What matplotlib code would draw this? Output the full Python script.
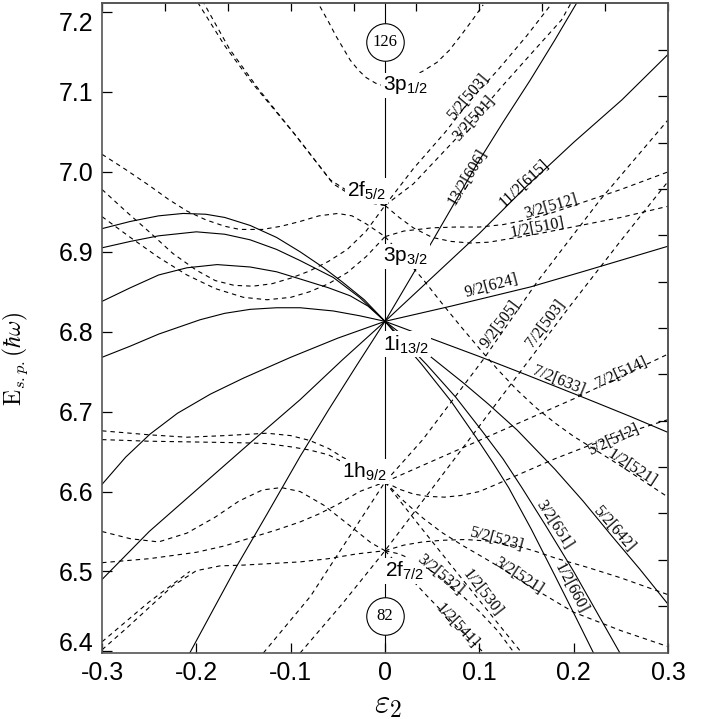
import numpy as np
import matplotlib
matplotlib.use("Agg")
import matplotlib.pyplot as plt

plt.rcParams["axes.unicode_minus"] = False

# ---------------------------------------------------------------------------
# Poziomy jednocząstkowe: (epsilon_2, E [hbar*omega])
# ---------------------------------------------------------------------------

# linie ciągłe – 1i13/2, strona prolate
lvl_606 = ([0, 0.05, 0.097, 0.125, 0.154, 0.18, 0.203],
           [6.813, 6.913, 7.009, 7.062, 7.115, 7.165, 7.211])
lvl_615 = ([0, 0.05, 0.1, 0.15, 0.2, 0.251, 0.3],
           [6.813, 6.868, 6.923, 6.982, 7.037, 7.09, 7.147])
lvl_624 = ([0, 0.07, 0.154, 0.212, 0.3], [6.813, 6.832, 6.856, 6.876, 6.907])
lvl_633 = ([0, 0.05, 0.1, 0.15, 0.214, 0.26, 0.3],
           [6.813, 6.791, 6.769, 6.746, 6.716, 6.694, 6.674])
lvl_642 = ([0, 0.047, 0.083, 0.11, 0.14, 0.18, 0.21, 0.24, 0.27, 0.3],
           [6.813, 6.77, 6.736, 6.709, 6.677, 6.628, 6.588, 6.545, 6.503, 6.459])
lvl_651 = ([0, 0.044, 0.075, 0.104, 0.125, 0.145, 0.17, 0.2, 0.225, 0.249],
           [6.813, 6.759, 6.718, 6.674, 6.641, 6.605, 6.558, 6.5, 6.448, 6.398])
lvl_660 = ([0, 0.039, 0.07, 0.097, 0.115, 0.131, 0.155, 0.18, 0.2, 0.221],
           [6.813, 6.759, 6.713, 6.667, 6.635, 6.605, 6.553, 6.495, 6.448, 6.398])

# linie ciągłe – 1i13/2, strona oblate
obl_a = ([-0.3, -0.27, -0.24, -0.214, -0.19, -0.17, -0.143, -0.115, -0.09, -0.065, -0.045, -0.022, 0],
         [6.929, 6.938, 6.945, 6.948, 6.947, 6.943, 6.933, 6.918, 6.9, 6.88, 6.862, 6.84, 6.813])
obl_b = ([-0.3, -0.27, -0.24, -0.2, -0.17, -0.143, -0.115, -0.09, -0.055, -0.027, 0],
         [6.905, 6.913, 6.92, 6.925, 6.922, 6.915, 6.903, 6.889, 6.868, 6.843, 6.813])
obl_c = ([-0.3, -0.27, -0.24, -0.21, -0.178, -0.143, -0.115, -0.09, -0.06, -0.037, -0.018, 0],
         [6.838, 6.855, 6.871, 6.88, 6.884, 6.881, 6.875, 6.866, 6.855, 6.845, 6.832, 6.813])
obl_d = ([-0.3, -0.27, -0.24, -0.196, -0.17, -0.143, -0.115, -0.09, -0.055, -0.027, 0],
         [6.768, 6.782, 6.797, 6.815, 6.823, 6.828, 6.83, 6.83, 6.826, 6.82, 6.813])
obl_e = ([-0.3, -0.275, -0.249, -0.22, -0.185, -0.15, -0.1, -0.05, 0],
         [6.609, 6.643, 6.672, 6.698, 6.722, 6.742, 6.768, 6.792, 6.813])
obl_f = ([-0.3, -0.25, -0.196, -0.14, -0.09, -0.045, 0],
         [6.49, 6.55, 6.606, 6.664, 6.715, 6.765, 6.813])
obl_g = ([-0.207, -0.18, -0.157, -0.125, -0.09, -0.06, -0.03, 0],
         [6.398, 6.457, 6.507, 6.572, 6.644, 6.702, 6.758, 6.813])

# linie przerywane – stany o parzystości ujemnej
p12_top = ([-0.069, -0.06, -0.052, -0.044, -0.037, -0.028, -0.02, -0.01, 0,
            0.012, 0.025, 0.04, 0.055, 0.068, 0.08, 0.092, 0.104],
           [7.207, 7.188, 7.17, 7.154, 7.14, 7.127, 7.118, 7.111, 7.107,
            7.11, 7.117, 7.126, 7.137, 7.152, 7.17, 7.189, 7.209])
f52_up_a = ([0, -0.025, -0.058, -0.097, -0.14, -0.17, -0.198],
            [6.958, 6.965, 6.99, 7.049, 7.11, 7.158, 7.211])
f52_up_b = ([0, -0.025, -0.055, -0.093, -0.135, -0.165, -0.192],
            [6.958, 6.963, 6.985, 7.043, 7.105, 7.154, 7.211])
lvl_503 = ([0, 0.03, 0.064, 0.09, 0.12, 0.15, 0.177],
           [6.958, 7.004, 7.05, 7.089, 7.128, 7.17, 7.211])
lvl_501 = ([0, 0.03, 0.074, 0.1, 0.124, 0.155, 0.187, 0.197],
           [6.958, 6.985, 7.04, 7.074, 7.107, 7.148, 7.19, 7.211])
obl_d1 = ([-0.3, -0.275, -0.25, -0.23, -0.21, -0.19, -0.17, -0.154, -0.13, -0.11,
           -0.09, -0.07, -0.05, -0.035, -0.02, 0],
          [7.022, 7.003, 6.983, 6.966, 6.951, 6.94, 6.932, 6.928, 6.928, 6.932,
           6.938, 6.945, 6.948, 6.945, 6.935, 6.919])
obl_d2 = ([-0.3, -0.275, -0.25, -0.225, -0.2, -0.18, -0.16, -0.14, -0.12, -0.1,
           -0.08, -0.06, -0.04, -0.02, 0],
          [6.978, 6.951, 6.925, 6.898, 6.877, 6.864, 6.858, 6.857, 6.86, 6.867,
           6.876, 6.888, 6.903, 6.926, 6.958])
obl_d3 = ([-0.3, -0.27, -0.24, -0.21, -0.18, -0.15, -0.125, -0.1, -0.08, -0.06, -0.04, -0.02, 0],
          [6.944, 6.918, 6.893, 6.871, 6.854, 6.843, 6.84, 6.843, 6.85, 6.86, 6.874, 6.894, 6.919])
lvl_512 = ([0, 0.02, 0.05, 0.075, 0.1, 0.125, 0.15, 0.175, 0.2, 0.225, 0.25, 0.275, 0.3],
           [6.919, 6.926, 6.93, 6.931, 6.931, 6.934, 6.94, 6.948, 6.958, 6.968, 6.978, 6.989, 7.0])
lvl_510 = ([0, 0.015, 0.03, 0.05, 0.07, 0.09, 0.11, 0.13, 0.16, 0.19, 0.22, 0.25, 0.275, 0.3],
           [6.958, 6.943, 6.93, 6.918, 6.913, 6.911, 6.912, 6.916, 6.922, 6.929, 6.936,
            6.943, 6.95, 6.957])
lvl_521a = ([0, 0.02, 0.04, 0.06, 0.08, 0.1, 0.12, 0.14, 0.16, 0.18, 0.2, 0.215, 0.25, 0.3],
            [6.919, 6.893, 6.866, 6.836, 6.807, 6.779, 6.752, 6.727, 6.705, 6.686, 6.669,
             6.658, 6.632, 6.593])
lvl_505 = ([-0.129, -0.079, -0.026, 0, 0.04, 0.104, 0.161, 0.228, 0.3],
           [6.398, 6.469, 6.565, 6.612, 6.665, 6.765, 6.862, 6.965, 7.065])
lvl_503b = ([-0.09, -0.045, 0, 0.05, 0.1, 0.146, 0.196, 0.25, 0.3],
            [6.398, 6.46, 6.526, 6.604, 6.682, 6.754, 6.832, 6.914, 6.988])
lvl_514 = ([0, 0.1, 0.2, 0.3], [6.612, 6.664, 6.716, 6.772])
lvl_512b = ([0, 0.015, 0.03, 0.045, 0.063, 0.08, 0.1, 0.12, 0.145, 0.18, 0.215, 0.26, 0.3],
            [6.612, 6.603, 6.597, 6.594, 6.593, 6.595, 6.6, 6.61, 6.623, 6.641, 6.657,
             6.675, 6.69])
obl_e1 = ([-0.3, -0.25, -0.21, -0.17, -0.125, -0.1, -0.08, -0.06, -0.045, -0.02, 0],
          [6.676, 6.671, 6.668, 6.67, 6.673, 6.67, 6.664, 6.654, 6.643, 6.628, 6.612])
obl_e2 = ([-0.3, -0.25, -0.2, -0.15, -0.125, -0.1, -0.08, -0.06, -0.045, -0.02, 0],
          [6.665, 6.663, 6.662, 6.661, 6.66, 6.656, 6.652, 6.646, 6.637, 6.625, 6.612])
obl_e3 = ([-0.3, -0.27, -0.24, -0.21, -0.18, -0.155, -0.13, -0.11, -0.09, -0.065,
           -0.037, -0.015, 0],
          [6.55, 6.541, 6.537, 6.548, 6.568, 6.588, 6.602, 6.605, 6.6, 6.583,
           6.557, 6.536, 6.526])
obl_e4 = ([-0.3, -0.25, -0.2, -0.17, -0.14, -0.115, -0.09, -0.07, -0.05, -0.027, 0],
          [6.511, 6.516, 6.524, 6.532, 6.543, 6.552, 6.562, 6.572, 6.584, 6.6, 6.612])
obl_e5 = ([-0.3, -0.275, -0.25, -0.225, -0.2, -0.175, -0.15, -0.12, -0.09, -0.06, -0.03, 0],
          [6.402, 6.428, 6.455, 6.482, 6.501, 6.507, 6.508, 6.51, 6.512, 6.516, 6.522, 6.526])
obl_e6 = ([-0.3, -0.25, -0.207], [6.412, 6.462, 6.5])
lvl_521b = ([0, 0.02, 0.04, 0.06, 0.083, 0.105, 0.125, 0.16, 0.2, 0.25, 0.3],
            [6.612, 6.588, 6.567, 6.549, 6.532, 6.517, 6.503, 6.477, 6.449, 6.426, 6.406])
lvl_530 = ([0, 0.034, 0.076, 0.119, 0.145], [6.612, 6.561, 6.499, 6.436, 6.398])
lvl_523 = ([0, 0.02, 0.04, 0.06, 0.085, 0.11, 0.14, 0.16, 0.18, 0.215, 0.25, 0.3],
           [6.526, 6.533, 6.537, 6.539, 6.54, 6.538, 6.532, 6.525, 6.517, 6.505, 6.492, 6.471])
lvl_532 = ([0, 0.015, 0.034, 0.055, 0.076, 0.1, 0.12, 0.137],
           [6.526, 6.522, 6.512, 6.496, 6.476, 6.45, 6.425, 6.398])
lvl_541 = ([0, 0.044, 0.077, 0.105], [6.526, 6.47, 6.43, 6.398])

solid_levels = [lvl_606, lvl_615, lvl_624, lvl_633, lvl_642, lvl_651, lvl_660,
                obl_a, obl_b, obl_c, obl_d, obl_e, obl_f, obl_g]
dashed_levels = [p12_top, f52_up_a, f52_up_b, lvl_503, lvl_501, obl_d1, obl_d2, obl_d3,
                 lvl_512, lvl_510, lvl_521a, lvl_505, lvl_503b, lvl_514, lvl_512b,
                 obl_e1, obl_e2, obl_e3, obl_e4, obl_e5, obl_e6,
                 lvl_521b, lvl_530, lvl_523, lvl_532, lvl_541]

# etykiety Nilssona: tekst, epsilon, E, kąt
nilsson_labels = [
    ("5/2[503]", 0.088, 7.093, 50), ("3/2[501]", 0.095, 7.067, 48),
    ("13/2[606]", 0.088, 6.993, 59), ("11/2[615]", 0.148, 6.986, 43),
    ("3/2[512]", 0.1755, 6.956, 16), ("1/2[510]", 0.162, 6.930, 11),
    ("9/2[624]", 0.113, 6.857, 15), ("9/2[505]", 0.122, 6.809, 53),
    ("7/2[503]", 0.170, 6.811, 53), ("7/2[633]", 0.184, 6.739, -22),
    ("7/2[514]", 0.251, 6.749, 25), ("5/2[512]", 0.242, 6.6645, 25),
    ("1/2[521]", 0.262, 6.629, -33), ("3/2[651]", 0.179, 6.559, -57),
    ("5/2[642]", 0.2425, 6.553, -49), ("1/2[660]", 0.1966, 6.479, -62),
    ("5/2[523]", 0.118, 6.540, -15), ("3/2[521]", 0.142, 6.494, -33),
    ("3/2[532]", 0.058, 6.496, -40), ("1/2[530]", 0.103, 6.473, -52),
    ("1/2[541]", 0.0766, 6.432, -47),
]

# stany sferyczne: tekst, epsilon, E (linia bazowa), wyrównanie
spherical_labels = [
    (r"3p$_\mathregular{1/2}$", -0.002, 7.102, "left"),
    (r"2f$_\mathregular{5/2}$", 0.001, 6.969, "right"),
    (r"3p$_\mathregular{3/2}$", -0.002, 6.888, "left"),
    (r"1i$_\mathregular{13/2}$", -0.002, 6.777, "left"),
    (r"1h$_\mathregular{9/2}$", 0.002, 6.618, "right"),
    (r"2f$_\mathregular{7/2}$", 0.0, 6.494, "left"),
]

magic_numbers = ["126", "82"]
magic_E = [7.162, 6.444]

xticks = [-0.3, -0.2, -0.1, 0, 0.1, 0.2, 0.3]
xtick_labels = ["-0.3", "-0.2", "-0.1", "0", "0.1", "0.2", "0.3"]
yticks = [6.4, 6.5, 6.6, 6.7, 6.8, 6.9, 7.0, 7.1, 7.2]
ytick_labels = ["6.4", "6.5", "6.6", "6.7", "6.8", "6.9", "7.0", "7.1", "7.2"]

# ---------------------------------------------------------------------------
# Rysowanie
# ---------------------------------------------------------------------------

fig = plt.figure(figsize=(7.1, 7.19), dpi=100)
ax = fig.add_axes([0.1437, 0.0918, 0.7972, 0.904])
ax.set_xlim(-0.3, 0.3)
ax.set_ylim(6.398, 7.2113)

lw = 0.8
for xs, ys in solid_levels:
    ax.plot(xs, ys, color="k", lw=lw, zorder=2)
for xs, ys in dashed_levels:
    ax.plot(xs, ys, color="k", lw=lw, ls=(0, (4, 3.6)), zorder=2)
ax.axvline(0, color="k", lw=lw, zorder=2)

for txt, x, y, rot in nilsson_labels:
    ax.text(x, y, txt, rotation=rot, rotation_mode="anchor", ha="center", va="center",
            fontsize=11.5, family="Liberation Serif", zorder=5)

for txt, x, y, ha in spherical_labels:
    ax.text(x, y, txt, ha=ha, va="baseline", fontsize=15, family="Liberation Sans",
            zorder=4, bbox=dict(boxstyle="square,pad=0.08", fc="white", ec="none"))

for txt, y in zip(magic_numbers, magic_E):
    ax.plot([0], [y], "o", ms=27, mfc="white", mec="k", mew=lw, zorder=3)
    ax.text(0, y, txt, ha="center", va="center", fontsize=12,
            family="Liberation Serif", zorder=4)

# osie
ax.set_xticks(xticks)
ax.set_xticklabels(xtick_labels)
ax.set_yticks(yticks)
ax.set_yticklabels(ytick_labels)
ax.tick_params(direction="in", length=7, width=0.9, labelsize=18, pad=6)
for lab in ax.get_xticklabels() + ax.get_yticklabels():
    lab.set_family("Liberation Sans")
ax.get_yticklabels()[0].set_va("baseline")
ax.get_yticklabels()[-1].set_va("top")

top = ax.secondary_xaxis("top")
top.set_xticks(np.linspace(-0.3, 0.3, 10))
top.tick_params(direction="in", length=6, width=0.9, labeltop=False)
right = ax.secondary_yaxis("right")
right.set_yticks(6.4566 + 0.058 * np.arange(13))
right.tick_params(direction="in", length=7, width=0.9, labelright=False)

for sp in list(ax.spines.values()) + [top.spines["top"], right.spines["right"]]:
    sp.set_color("#555555")
    sp.set_linewidth(1.2)

ax.set_xlabel(r"$\varepsilon_2$", fontsize=24, math_fontfamily="cm")
ax.xaxis.set_label_coords(0.505, -0.052)
ax.set_ylabel(r"$\mathrm{E}_{s.p.}(\hbar\omega)$", fontsize=17, math_fontfamily="cm")
ax.yaxis.set_label_coords(-0.128, 0.452)

fig.savefig("out.png", dpi=100)
